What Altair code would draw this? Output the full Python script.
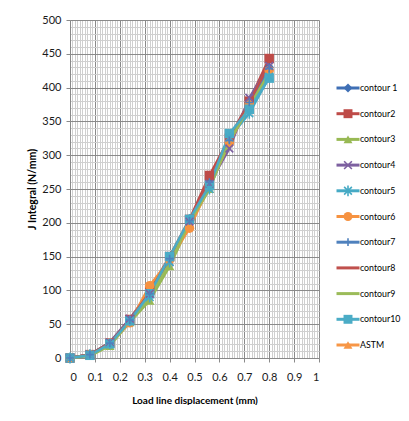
import altair as alt
import pandas as pd

x_vals = [0, 0.08, 0.16, 0.24, 0.32, 0.40, 0.48, 0.56, 0.64, 0.72, 0.80]
c1 = [0, 5, 22, 56, 96, 148, 203, 262, 318, 378, 430]
c2 = [0, 5, 22, 57, 100, 150, 205, 270, 325, 380, 443]
c3 = [0, 3, 18, 53, 85, 136, 198, 250, 322, 375, 418]
c4 = [0, 5, 23, 58, 95, 142, 202, 258, 310, 385, 432]
c5 = [0, 5, 21, 55, 90, 142, 205, 250, 326, 362, 416]
c6 = [0, 5, 22, 52, 107, 145, 192, 255, 318, 375, 425]
c7 = [0, 5, 22, 56, 95, 147, 203, 260, 322, 378, 428]
c8 = [0, 5, 22, 56, 97, 148, 203, 265, 322, 378, 435]
c9 = [0, 4, 20, 54, 90, 140, 200, 252, 320, 372, 422]
c10 = [0, 4, 21, 55, 95, 150, 205, 255, 332, 368, 414]
astm_x = [0]
astm = [0]

series_names = ["contour 1", "contour2", "contour3", "contour4", "contour5",
                "contour6", "contour7", "contour8", "contour9", "contour10", "ASTM"]
series_colors = ["#3F6FB5", "#BE4B48", "#98B954", "#7D60A0", "#46AAC5",
                 "#F69240", "#4F81BD", "#C0504D", "#9BBB59", "#4BACC6", "#F79646"]
series_shapes = ["diamond", "square", "triangle-up",
                 "M-1,-1L1,1M-1,1L1,-1",
                 "M-1,-1L1,1M-1,1L1,-1M0,-1.4L0,1.4",
                 "circle",
                 "M0,-1L0,1M-1,0L1,0",
                 "circle", "circle", "square", "triangle-up"]
marker_style = ["filled", "filled", "filled", "stroke", "stroke", "filled",
                "stroke", "none", "none", "filled", "filled"]

x_major = [0, 0.1, 0.2, 0.3, 0.4, 0.5, 0.6, 0.7, 0.8, 0.9, 1.0]
y_major = [0, 50, 100, 150, 200, 250, 300, 350, 400, 450, 500]
x_minor = [i / 100 for i in range(101) if i % 10 != 0]
y_minor = [v for v in range(0, 501, 10) if v % 50 != 0]

all_y = [c1, c2, c3, c4, c5, c6, c7, c8, c9, c10]
rows = []
for name, ys, style in zip(series_names[:10], all_y, marker_style[:10]):
    for xv, yv in zip(x_vals, ys):
        rows.append({"series": name, "x": xv, "y": yv, "style": style})
for xv, yv in zip(astm_x, astm):
    rows.append({"series": "ASTM", "x": xv, "y": yv, "style": "filled"})
df = pd.DataFrame(rows)

xscale = alt.Scale(domain=[0, 1], nice=False, zero=False)
yscale = alt.Scale(domain=[0, 500], nice=False)
color = alt.Color("series:N", scale=alt.Scale(domain=series_names, range=series_colors), legend=None)
shape = alt.Shape("series:N", scale=alt.Scale(domain=series_names, range=series_shapes), legend=None)

grid_minor = alt.Chart(df).mark_point(opacity=0).encode(
    x=alt.X("x:Q", scale=xscale, axis=alt.Axis(orient="top", values=x_minor, grid=True,
            gridColor="#cfcfcf", gridWidth=1, labels=False, ticks=False, domain=False, title=None)),
    y=alt.Y("y:Q", scale=yscale, axis=alt.Axis(orient="right", values=y_minor, grid=True,
            gridColor="#cfcfcf", gridWidth=1, labels=False, ticks=False, domain=False, title=None)),
)

lines = alt.Chart(df).mark_line(strokeWidth=2.6).encode(
    x=alt.X("x:Q", scale=xscale, axis=alt.Axis(
        orient="bottom", values=x_major, format=".1~f", grid=True, gridColor="#8a8a8a",
        tickSize=4, tickColor="#8a8a8a", domainColor="#8a8a8a", labelFontSize=11,
        labelColor="#1a1a1a", labelPadding=9, title="Load line displacement (mm)",
        titleFontSize=10, titleFontWeight="bold", titleColor="#000", titlePadding=13)),
    y=alt.Y("y:Q", scale=yscale, axis=alt.Axis(
        orient="left", values=y_major, format="d", grid=True, gridColor="#8a8a8a",
        tickSize=4, tickColor="#8a8a8a", domainColor="#8a8a8a", labelFontSize=11,
        labelColor="#1a1a1a", labelPadding=5, title="J Integral (N/mm)",
        titleFontSize=10.5, titleFontWeight="bold", titleColor="#000", titlePadding=4)),
    color=color,
    order=alt.Order("x:Q"),
)

pts_filled = alt.Chart(df).transform_filter(alt.datum.style == "filled").mark_point(
    filled=True, opacity=1, size=90).encode(
    x=alt.X("x:Q", scale=xscale, axis=None), y=alt.Y("y:Q", scale=yscale, axis=None),
    color=color, shape=shape)

pts_stroke = alt.Chart(df).transform_filter(alt.datum.style == "stroke").mark_point(
    filled=False, opacity=1, size=60, strokeWidth=1.6).encode(
    x=alt.X("x:Q", scale=xscale, axis=None), y=alt.Y("y:Q", scale=yscale, axis=None),
    color=color, shape=shape)

main = alt.layer(grid_minor, lines, pts_filled, pts_stroke).resolve_axis(
    x="independent", y="independent").properties(width=249, height=338)

leg_df = pd.DataFrame({"series": series_names, "style": marker_style})
ly = alt.Y("series:N", sort=series_names, axis=None,
           scale=alt.Scale(type="point", range=[68, 325], padding=0))
leg_base = alt.Chart(leg_df)
leg_line = leg_base.mark_point(shape="M-1,0L1,0", size=529, strokeWidth=3, filled=False,
                               opacity=1).encode(y=ly, color=color)
leg_fill = leg_base.transform_filter(alt.datum.style == "filled").mark_point(
    filled=True, opacity=1, size=80).encode(y=ly, color=color, shape=shape)
leg_stroke = leg_base.transform_filter(alt.datum.style == "stroke").mark_point(
    filled=False, opacity=1, size=60, strokeWidth=1.6).encode(y=ly, color=color, shape=shape)
leg_text = leg_base.mark_text(align="left", baseline="middle", dx=12, fontSize=8.8,
                              font="Lato", color="#000").encode(y=ly, text="series:N")
legend = alt.layer(leg_line, leg_fill, leg_stroke, leg_text).properties(width=56, height=338)

chart = alt.hconcat(main, legend, spacing=0).configure(
    font="Lato", padding={"left": 19, "top": 6, "right": 0, "bottom": 0}
).configure_view(stroke=None).configure_axis(labelFont="Lato", titleFont="Lato")

chart.save("out.html", embed_options={"renderer": "svg", "actions": False})
